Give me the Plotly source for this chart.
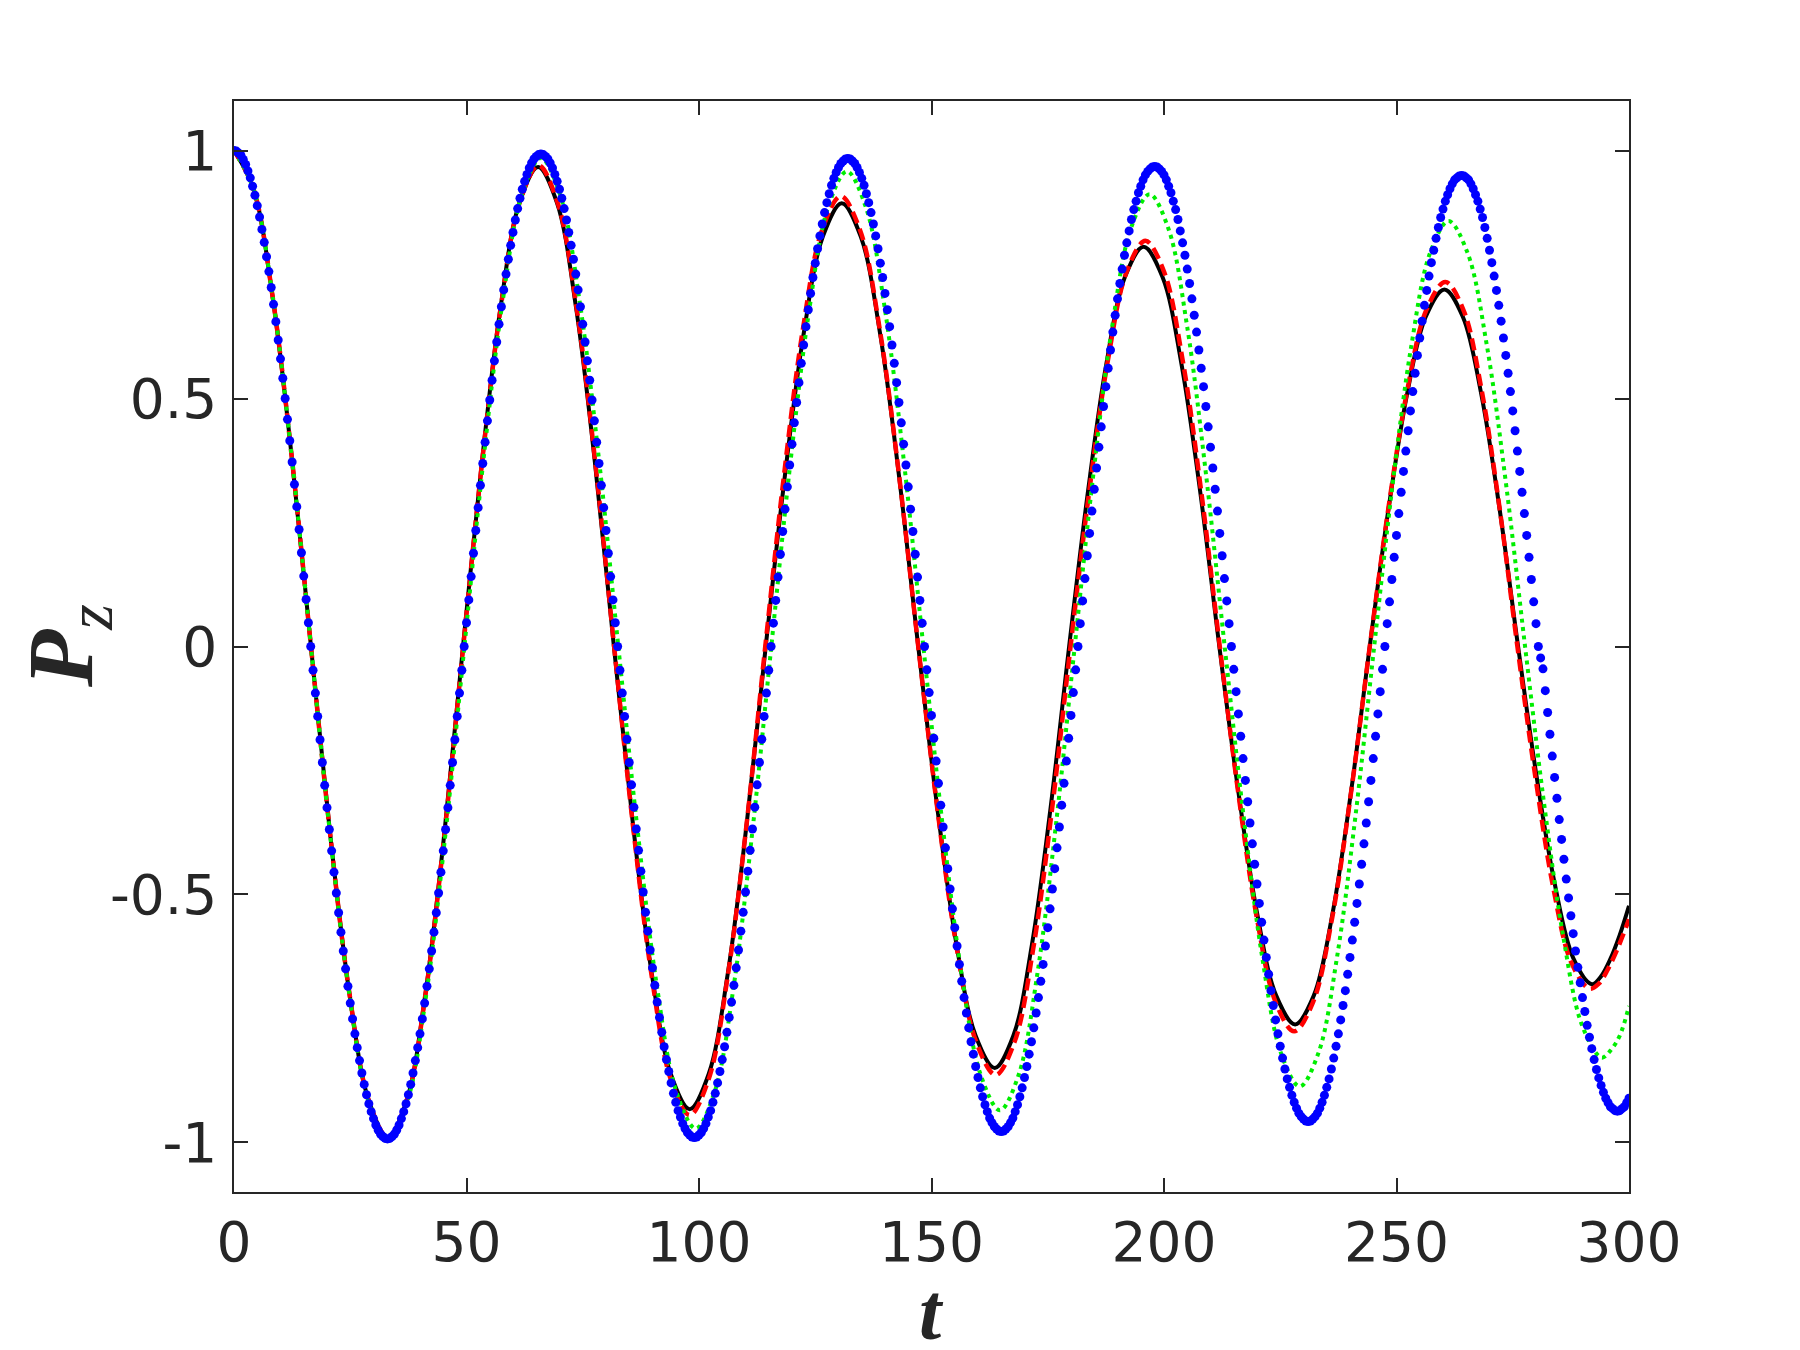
import plotly.graph_objects as go

# ---------------- data ----------------
# Blue dotted series: samples every 0.5 time units, listed half-cycle by half-cycle
blue_h0 = [1.000, 0.999, 0.995, 0.990, 0.982, 0.972, 0.959, 0.945, 0.928, 0.910, 0.889, 0.866, 0.841, 0.815, 0.786, 0.756, 0.724,
           0.690, 0.655, 0.618, 0.580, 0.541, 0.500, 0.458, 0.415, 0.372, 0.327, 0.282, 0.236, 0.189, 0.142, 0.095, 0.048, 0.000]
blue_h1 = [-0.048, -0.094, -0.141, -0.188, -0.234, -0.280, -0.325, -0.369, -0.412, -0.455, -0.497, -0.537, -0.576, -0.614, -0.650, -0.685, -0.719,
           -0.751, -0.781, -0.809, -0.835, -0.860, -0.883, -0.904, -0.922, -0.938, -0.952, -0.965, -0.975, -0.983, -0.988, -0.992, -0.993,
           -0.992, -0.988, -0.983, -0.975, -0.965, -0.952, -0.938, -0.922, -0.904, -0.883, -0.860, -0.835, -0.809, -0.781, -0.751, -0.719,
           -0.685, -0.650, -0.614, -0.576, -0.537, -0.497, -0.455, -0.412, -0.369, -0.325, -0.280, -0.234, -0.188, -0.141, -0.094, -0.048, 0.000]
blue_h2 = [0.048, 0.094, 0.141, 0.188, 0.234, 0.280, 0.325, 0.369, 0.412, 0.455, 0.497, 0.537, 0.576, 0.614, 0.650, 0.685, 0.719,
           0.751, 0.781, 0.809, 0.835, 0.860, 0.883, 0.904, 0.922, 0.938, 0.952, 0.965, 0.975, 0.983, 0.988, 0.992, 0.993,
           0.992, 0.988, 0.983, 0.975, 0.965, 0.952, 0.938, 0.922, 0.904, 0.883, 0.860, 0.835, 0.809, 0.781, 0.751, 0.719,
           0.685, 0.650, 0.614, 0.576, 0.537, 0.497, 0.455, 0.412, 0.369, 0.325, 0.280, 0.234, 0.188, 0.141, 0.094, 0.048, 0.000]
blue_h3 = [-0.048, -0.094, -0.141, -0.187, -0.234, -0.279, -0.324, -0.368, -0.411, -0.453, -0.495, -0.536, -0.574, -0.612, -0.648, -0.683, -0.717,
           -0.748, -0.778, -0.807, -0.833, -0.857, -0.880, -0.901, -0.919, -0.936, -0.949, -0.962, -0.972, -0.980, -0.985, -0.989, -0.990,
           -0.989, -0.985, -0.980, -0.972, -0.962, -0.949, -0.936, -0.919, -0.901, -0.880, -0.857, -0.833, -0.807, -0.778, -0.748, -0.717,
           -0.683, -0.648, -0.612, -0.574, -0.536, -0.495, -0.453, -0.411, -0.368, -0.324, -0.279, -0.234, -0.187, -0.141, -0.094, -0.048, 0.000]
blue_h4 = [0.047, 0.093, 0.140, 0.186, 0.232, 0.277, 0.322, 0.366, 0.408, 0.451, 0.492, 0.532, 0.571, 0.608, 0.645, 0.679, 0.712,
           0.744, 0.773, 0.802, 0.828, 0.852, 0.875, 0.895, 0.913, 0.930, 0.944, 0.956, 0.966, 0.974, 0.979, 0.983, 0.984,
           0.983, 0.979, 0.974, 0.966, 0.956, 0.944, 0.930, 0.913, 0.895, 0.875, 0.852, 0.828, 0.802, 0.773, 0.744, 0.712,
           0.679, 0.645, 0.608, 0.571, 0.532, 0.492, 0.451, 0.408, 0.366, 0.322, 0.277, 0.232, 0.186, 0.140, 0.093, 0.047, 0.000]
blue_h5 = [-0.047, -0.093, -0.139, -0.185, -0.231, -0.276, -0.320, -0.364, -0.406, -0.448, -0.489, -0.529, -0.567, -0.604, -0.641, -0.675, -0.708,
           -0.739, -0.769, -0.797, -0.822, -0.847, -0.869, -0.890, -0.908, -0.924, -0.938, -0.951, -0.960, -0.968, -0.973, -0.977, -0.978,
           -0.977, -0.973, -0.968, -0.960, -0.951, -0.938, -0.924, -0.908, -0.890, -0.869, -0.847, -0.822, -0.797, -0.769, -0.739, -0.708,
           -0.675, -0.641, -0.604, -0.567, -0.529, -0.489, -0.448, -0.406, -0.364, -0.320, -0.276, -0.231, -0.185, -0.139, -0.093, -0.047, 0.000]
blue_h6 = [0.046, 0.092, 0.137, 0.183, 0.228, 0.273, 0.317, 0.360, 0.402, 0.443, 0.484, 0.524, 0.561, 0.598, 0.634, 0.668, 0.701,
           0.732, 0.761, 0.789, 0.814, 0.838, 0.861, 0.881, 0.898, 0.915, 0.928, 0.941, 0.951, 0.958, 0.963, 0.967, 0.968,
           0.967, 0.963, 0.958, 0.951, 0.941, 0.928, 0.915, 0.898, 0.881, 0.861, 0.838, 0.814, 0.789, 0.761, 0.732, 0.701,
           0.668, 0.634, 0.598, 0.561, 0.524, 0.484, 0.443, 0.402, 0.360, 0.317, 0.273, 0.228, 0.183, 0.137, 0.092, 0.046, 0.000]
blue_h7 = [-0.046, -0.091, -0.136, -0.181, -0.226, -0.270, -0.313, -0.356, -0.398, -0.439, -0.479, -0.518, -0.556, -0.592, -0.627, -0.661, -0.694,
           -0.724, -0.753, -0.781, -0.806, -0.830, -0.852, -0.872, -0.889, -0.905, -0.919, -0.931, -0.941, -0.948, -0.953, -0.957, -0.958,
           -0.957, -0.953, -0.948, -0.941, -0.931, -0.919, -0.905, -0.889, -0.872, -0.852, -0.830, -0.806, -0.781, -0.753, -0.724, -0.694,
           -0.661, -0.627, -0.592, -0.556, -0.518, -0.479, -0.439, -0.398, -0.356, -0.313, -0.270, -0.226, -0.181, -0.136, -0.091, -0.046, 0.000]
blue_h8 = [0.046, 0.090, 0.135, 0.180, 0.224, 0.268, 0.311, 0.353, 0.394, 0.435, 0.475, 0.514, 0.551, 0.587, 0.622, 0.656, 0.688,
           0.718, 0.747, 0.774, 0.799, 0.823, 0.845, 0.865, 0.882, 0.898, 0.911, 0.923, 0.933, 0.941, 0.945, 0.949, 0.950,
           0.949, 0.945, 0.941, 0.933, 0.923, 0.911, 0.898, 0.882, 0.865, 0.845, 0.823, 0.799, 0.774, 0.747, 0.718, 0.688,
           0.656, 0.622, 0.587, 0.551, 0.514, 0.475, 0.435, 0.394, 0.353, 0.311, 0.268, 0.224, 0.180, 0.135, 0.090, 0.046, 0.000]
blue_h9 = [-0.023, -0.045, -0.089, -0.133, -0.177, -0.221, -0.264, -0.306, -0.349, -0.389, -0.429, -0.469, -0.507, -0.543, -0.579, -0.614, -0.647,
           -0.678, -0.708, -0.736, -0.764, -0.788, -0.811, -0.833, -0.853, -0.870, -0.885, -0.899, -0.911, -0.920, -0.928, -0.932, -0.936,
           -0.937, -0.936, -0.932, -0.928, -0.920, -0.911]
blue_pz = blue_h0 + blue_h1 + blue_h2 + blue_h3 + blue_h4 + blue_h5 + blue_h6 + blue_h7 + blue_h8 + blue_h9
blue_step = 0.5
blue_t = [blue_step * i for i in range(len(blue_pz))]

# Black solid series
black_t = [0, 4.14, 8.28, 12.41, 16.55, 20.69, 24.83, 28.96, 33.1,
           37.14, 41.18, 45.21, 49.25, 53.29, 57.33, 61.36, 65.4,
           69.48, 73.55, 77.63, 81.7, 85.78, 89.85, 93.93, 98.0,
           102.09, 106.18, 110.26, 114.35, 118.44, 122.53, 126.61, 130.7,
           134.81, 138.93, 143.04, 147.15, 151.26, 155.38, 159.49, 163.6,
           167.6, 171.6, 175.6, 179.6, 183.6, 187.6, 191.6, 195.6,
           199.68, 203.75, 207.83, 211.9, 215.98, 220.05, 224.13, 228.2,
           232.21, 236.23, 240.24, 244.25, 248.26, 252.28, 256.29, 260.3,
           264.26, 268.23, 272.19, 276.15, 280.11, 284.08, 288.04, 292.0,
           294.0, 296.0, 298.0, 300.0]
black_pz = [1.0, 0.924, 0.707, 0.383, 0.0, -0.379, -0.700, -0.915, -0.99,
            -0.915, -0.700, -0.379, 0.0, 0.370, 0.684, 0.894, 0.967,
            0.894, 0.684, 0.370, 0.0, -0.357, -0.660, -0.862, -0.933,
            -0.862, -0.660, -0.357, 0.0, 0.342, 0.632, 0.826, 0.894,
            0.826, 0.632, 0.342, 0.0, -0.326, -0.601, -0.785, -0.850,
            -0.785, -0.601, -0.326, 0.0, 0.309, 0.570, 0.745, 0.806,
            0.745, 0.570, 0.309, 0.0, -0.292, -0.539, -0.704, -0.762,
            -0.704, -0.539, -0.292, 0.0, 0.276, 0.509, 0.665, 0.720,
            0.665, 0.509, 0.276, 0.0, -0.261, -0.481, -0.629, -0.681,
            -0.665, -0.630, -0.582, -0.523]

# Red dashed series
red_t = [0, 4.14, 8.28, 12.41, 16.55, 20.69, 24.83, 28.96, 33.1,
         37.15, 41.2, 45.25, 49.3, 53.35, 57.4, 61.45, 65.5,
         69.56, 73.63, 77.69, 81.75, 85.81, 89.88, 93.94, 98.0,
         102.06, 106.13, 110.19, 114.25, 118.31, 122.38, 126.44, 130.5,
         134.66, 138.83, 142.99, 147.15, 151.31, 155.48, 159.64, 163.8,
         167.83, 171.85, 175.88, 179.9, 183.93, 187.95, 191.98, 196.0,
         200.0, 204.0, 208.0, 212.0, 216.0, 220.0, 224.0, 228.0,
         232.06, 236.13, 240.19, 244.25, 248.31, 252.38, 256.44, 260.5,
         264.38, 268.25, 272.13, 276.0, 279.88, 283.75, 287.63, 291.5,
         293.5, 295.5, 297.5, 300.0]
red_pz = [1.0, 0.924, 0.707, 0.383, 0.0, -0.379, -0.700, -0.915, -0.99,
          -0.915, -0.700, -0.379, 0.0, 0.372, 0.686, 0.896, 0.970,
          0.896, 0.686, 0.372, 0.0, -0.362, -0.668, -0.873, -0.945,
          -0.873, -0.668, -0.362, 0.0, 0.348, 0.642, 0.839, 0.908,
          0.839, 0.642, 0.348, 0.0, -0.331, -0.611, -0.798, -0.864,
          -0.798, -0.611, -0.331, 0.0, 0.313, 0.578, 0.756, 0.818,
          0.756, 0.578, 0.313, 0.0, -0.297, -0.549, -0.717, -0.776,
          -0.717, -0.549, -0.297, 0.0, 0.282, 0.520, 0.679, 0.735,
          0.679, 0.520, 0.282, 0.0, -0.264, -0.488, -0.638, -0.690,
          -0.680, -0.650, -0.610, -0.550]

# Green dotted series
green_t = [0, 4.14, 8.28, 12.41, 16.55, 20.69, 24.83, 28.96, 33.1,
           37.21, 41.33, 45.44, 49.55, 53.66, 57.78, 61.89, 66.0,
           70.16, 74.33, 78.49, 82.65, 86.81, 90.98, 95.14, 99.3,
           103.36, 107.43, 111.49, 115.55, 119.61, 123.68, 127.74, 131.8,
           135.91, 140.03, 144.14, 148.25, 152.36, 156.48, 160.59, 164.7,
           168.73, 172.75, 176.78, 180.8, 184.83, 188.85, 192.88, 196.9,
           200.94, 204.98, 209.01, 213.05, 217.09, 221.13, 225.16, 229.2,
           233.2, 237.2, 241.2, 245.2, 249.2, 253.2, 257.2, 261.2,
           265.31, 269.43, 273.54, 277.65, 281.76, 285.88, 289.99, 294.1,
           296.0, 298.0, 300.0]
green_pz = [1.0, 0.924, 0.707, 0.383, 0.0, -0.381, -0.703, -0.919, -0.995,
            -0.919, -0.703, -0.381, 0.0, 0.377, 0.696, 0.910, 0.985,
            0.910, 0.696, 0.377, 0.0, -0.372, -0.687, -0.898, -0.972,
            -0.898, -0.687, -0.372, 0.0, 0.367, 0.677, 0.885, 0.958,
            0.885, 0.677, 0.367, 0.0, -0.358, -0.661, -0.864, -0.935,
            -0.864, -0.661, -0.358, 0.0, 0.349, 0.645, 0.843, 0.912,
            0.843, 0.645, 0.349, 0.0, -0.340, -0.627, -0.820, -0.887,
            -0.820, -0.627, -0.340, 0.0, 0.329, 0.607, 0.793, 0.858,
            0.793, 0.607, 0.329, 0.0, -0.318, -0.586, -0.766, -0.829,
            -0.815, -0.785, -0.725]

x_ticks = [0, 50, 100, 150, 200, 250, 300]
y_ticks = [-1, -0.5, 0, 0.5, 1]
y_tick_text = ["-1", "-0.5", "0", "0.5", "1"]

# ---------------- figure ----------------
AX = "#262626"
fig = go.Figure()
fig.add_trace(go.Scatter(x=black_t, y=black_pz, mode="lines", line=dict(color="black", width=4, shape="spline"),
                         showlegend=False, hoverinfo="skip"))
fig.add_trace(go.Scatter(x=red_t, y=red_pz, mode="lines",
                         line=dict(color="#ff0000", width=4.5, dash="12px,6px", shape="spline"),
                         showlegend=False, hoverinfo="skip"))
fig.add_trace(go.Scatter(x=green_t, y=green_pz, mode="lines",
                         line=dict(color="#00ee00", width=4, dash="4px,4.5px", shape="spline"),
                         showlegend=False, hoverinfo="skip"))
fig.add_trace(go.Scatter(x=blue_t, y=blue_pz, mode="markers",
                         marker=dict(color="#0000ff", size=9, line=dict(width=0)),
                         showlegend=False, hoverinfo="skip"))

tick_font = dict(family="DejaVu Sans", size=55, color=AX)
fig.update_xaxes(range=[0, 300], tickvals=x_ticks, ticks="inside", ticklen=14, tickwidth=1.5, tickcolor=AX,
                 showline=True, linecolor=AX, linewidth=1.5, mirror="ticks", showgrid=False, zeroline=False,
                 tickfont=tick_font, ticklabelstandoff=1)
fig.update_yaxes(range=[-1.1, 1.1], tickvals=y_ticks, ticktext=y_tick_text, ticks="inside", ticklen=14,
                 tickwidth=1.5, tickcolor=AX,
                 showline=True, linecolor=AX, linewidth=1.5, mirror="ticks", showgrid=False, zeroline=False,
                 tickfont=tick_font, ticklabelstandoff=4)

fig.add_annotation(text="<b><i>t</i></b>", xref="paper", yref="paper", x=0.5, y=-0.11,
                   xanchor="center", yanchor="middle", showarrow=False,
                   font=dict(family="Liberation Serif", size=80, color=AX))
fig.add_annotation(text="<b><i>P</i></b><sub><i>z</i></sub>", xref="paper", yref="paper",
                   x=-0.12, y=0.5, xanchor="center", yanchor="middle", textangle=-90,
                   showarrow=False, font=dict(family="Liberation Serif", size=94, color=AX))

fig.update_layout(width=1800, height=1350, margin=dict(l=226, r=179, t=93, b=166),
                  paper_bgcolor="white", plot_bgcolor="white")

fig.write_html("out.html")
